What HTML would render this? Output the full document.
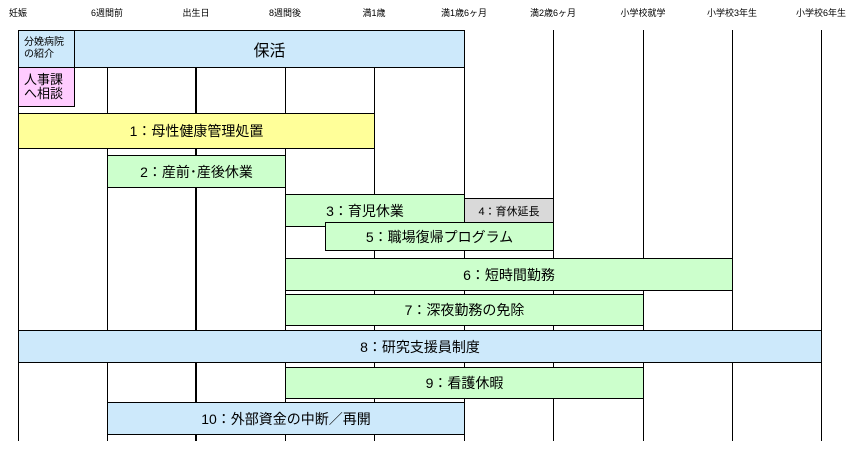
<!DOCTYPE html>
<html><head><meta charset="utf-8"><style>
body{margin:0;width:860px;height:455px;background:#fff;position:relative;overflow:hidden;font-family:"Liberation Sans","Noto Sans CJK JP",sans-serif}
.v{position:absolute;top:30px;height:411px;width:1px;background:#000}
.t{position:absolute;top:6px;font-size:9px;width:80px;text-align:center;color:#000}
.b{position:absolute;box-sizing:border-box;border:1px solid #000;display:flex;align-items:center;justify-content:center;font-size:14px;color:#000}
.bl{background:#cde9fb}.y{background:#ffff99}.g{background:#ccffcc}.p{background:#ffccff}.gr{background:#d9d9d9}
</style></head><body>
<div class="v" style="left:18px"></div>
<div class="v" style="left:107px"></div>
<div class="v" style="left:195px;width:2px"></div>
<div class="v" style="left:285px"></div>
<div class="v" style="left:374px"></div>
<div class="v" style="left:464px"></div>
<div class="v" style="left:553px"></div>
<div class="v" style="left:643px"></div>
<div class="v" style="left:732px"></div>
<div class="v" style="left:821px"></div>
<div class="t" style="left:-22px">妊娠</div>
<div class="t" style="left:67px">6週間前</div>
<div class="t" style="left:156px">出生日</div>
<div class="t" style="left:245px">8週間後</div>
<div class="t" style="left:334px">満1歳</div>
<div class="t" style="left:424px">満1歳6ヶ月</div>
<div class="t" style="left:513px">満2歳6ヶ月</div>
<div class="t" style="left:603px">小学校就学</div>
<div class="t" style="left:692px">小学校3年生</div>
<div class="t" style="left:781px">小学校6年生</div>
<div class="b bl" style="left:18px;top:30px;width:57px;height:38px;font-size:10px;justify-content:flex-start;padding-left:5px;line-height:12px">分娩病院<br>の紹介</div>
<div class="b bl" style="left:74px;top:30px;width:391px;height:38px;font-size:16px">保活</div>
<div class="b p" style="left:18px;top:67px;width:57px;height:40px;font-size:13px;justify-content:flex-start;padding-left:5px;line-height:14px">人事課<br>へ相談</div>
<div class="b y" style="left:18px;top:113px;width:357px;height:36px">1：母性健康管理処置</div>
<div class="b g" style="left:107px;top:155px;width:179px;height:33px">2：産前･産後休業</div>
<div class="b g" style="left:285px;top:194px;width:180px;height:33px;padding-right:20px">3：育児休業</div>
<div class="b gr" style="left:464px;top:198px;width:90px;height:25px;font-size:11px">4：育休延長</div>
<div class="b g" style="left:325px;top:222px;width:229px;height:29px">5：職場復帰プログラム</div>
<div class="b g" style="left:285px;top:258px;width:448px;height:33px">6：短時間勤務</div>
<div class="b g" style="left:285px;top:294px;width:359px;height:32px">7：深夜勤務の免除</div>
<div class="b bl" style="left:18px;top:330px;width:804px;height:33px">8：研究支援員制度</div>
<div class="b g" style="left:285px;top:367px;width:359px;height:32px">9：看護休暇</div>
<div class="b bl" style="left:107px;top:402px;width:358px;height:33px">10：外部資金の中断／再開</div>
</body></html>
